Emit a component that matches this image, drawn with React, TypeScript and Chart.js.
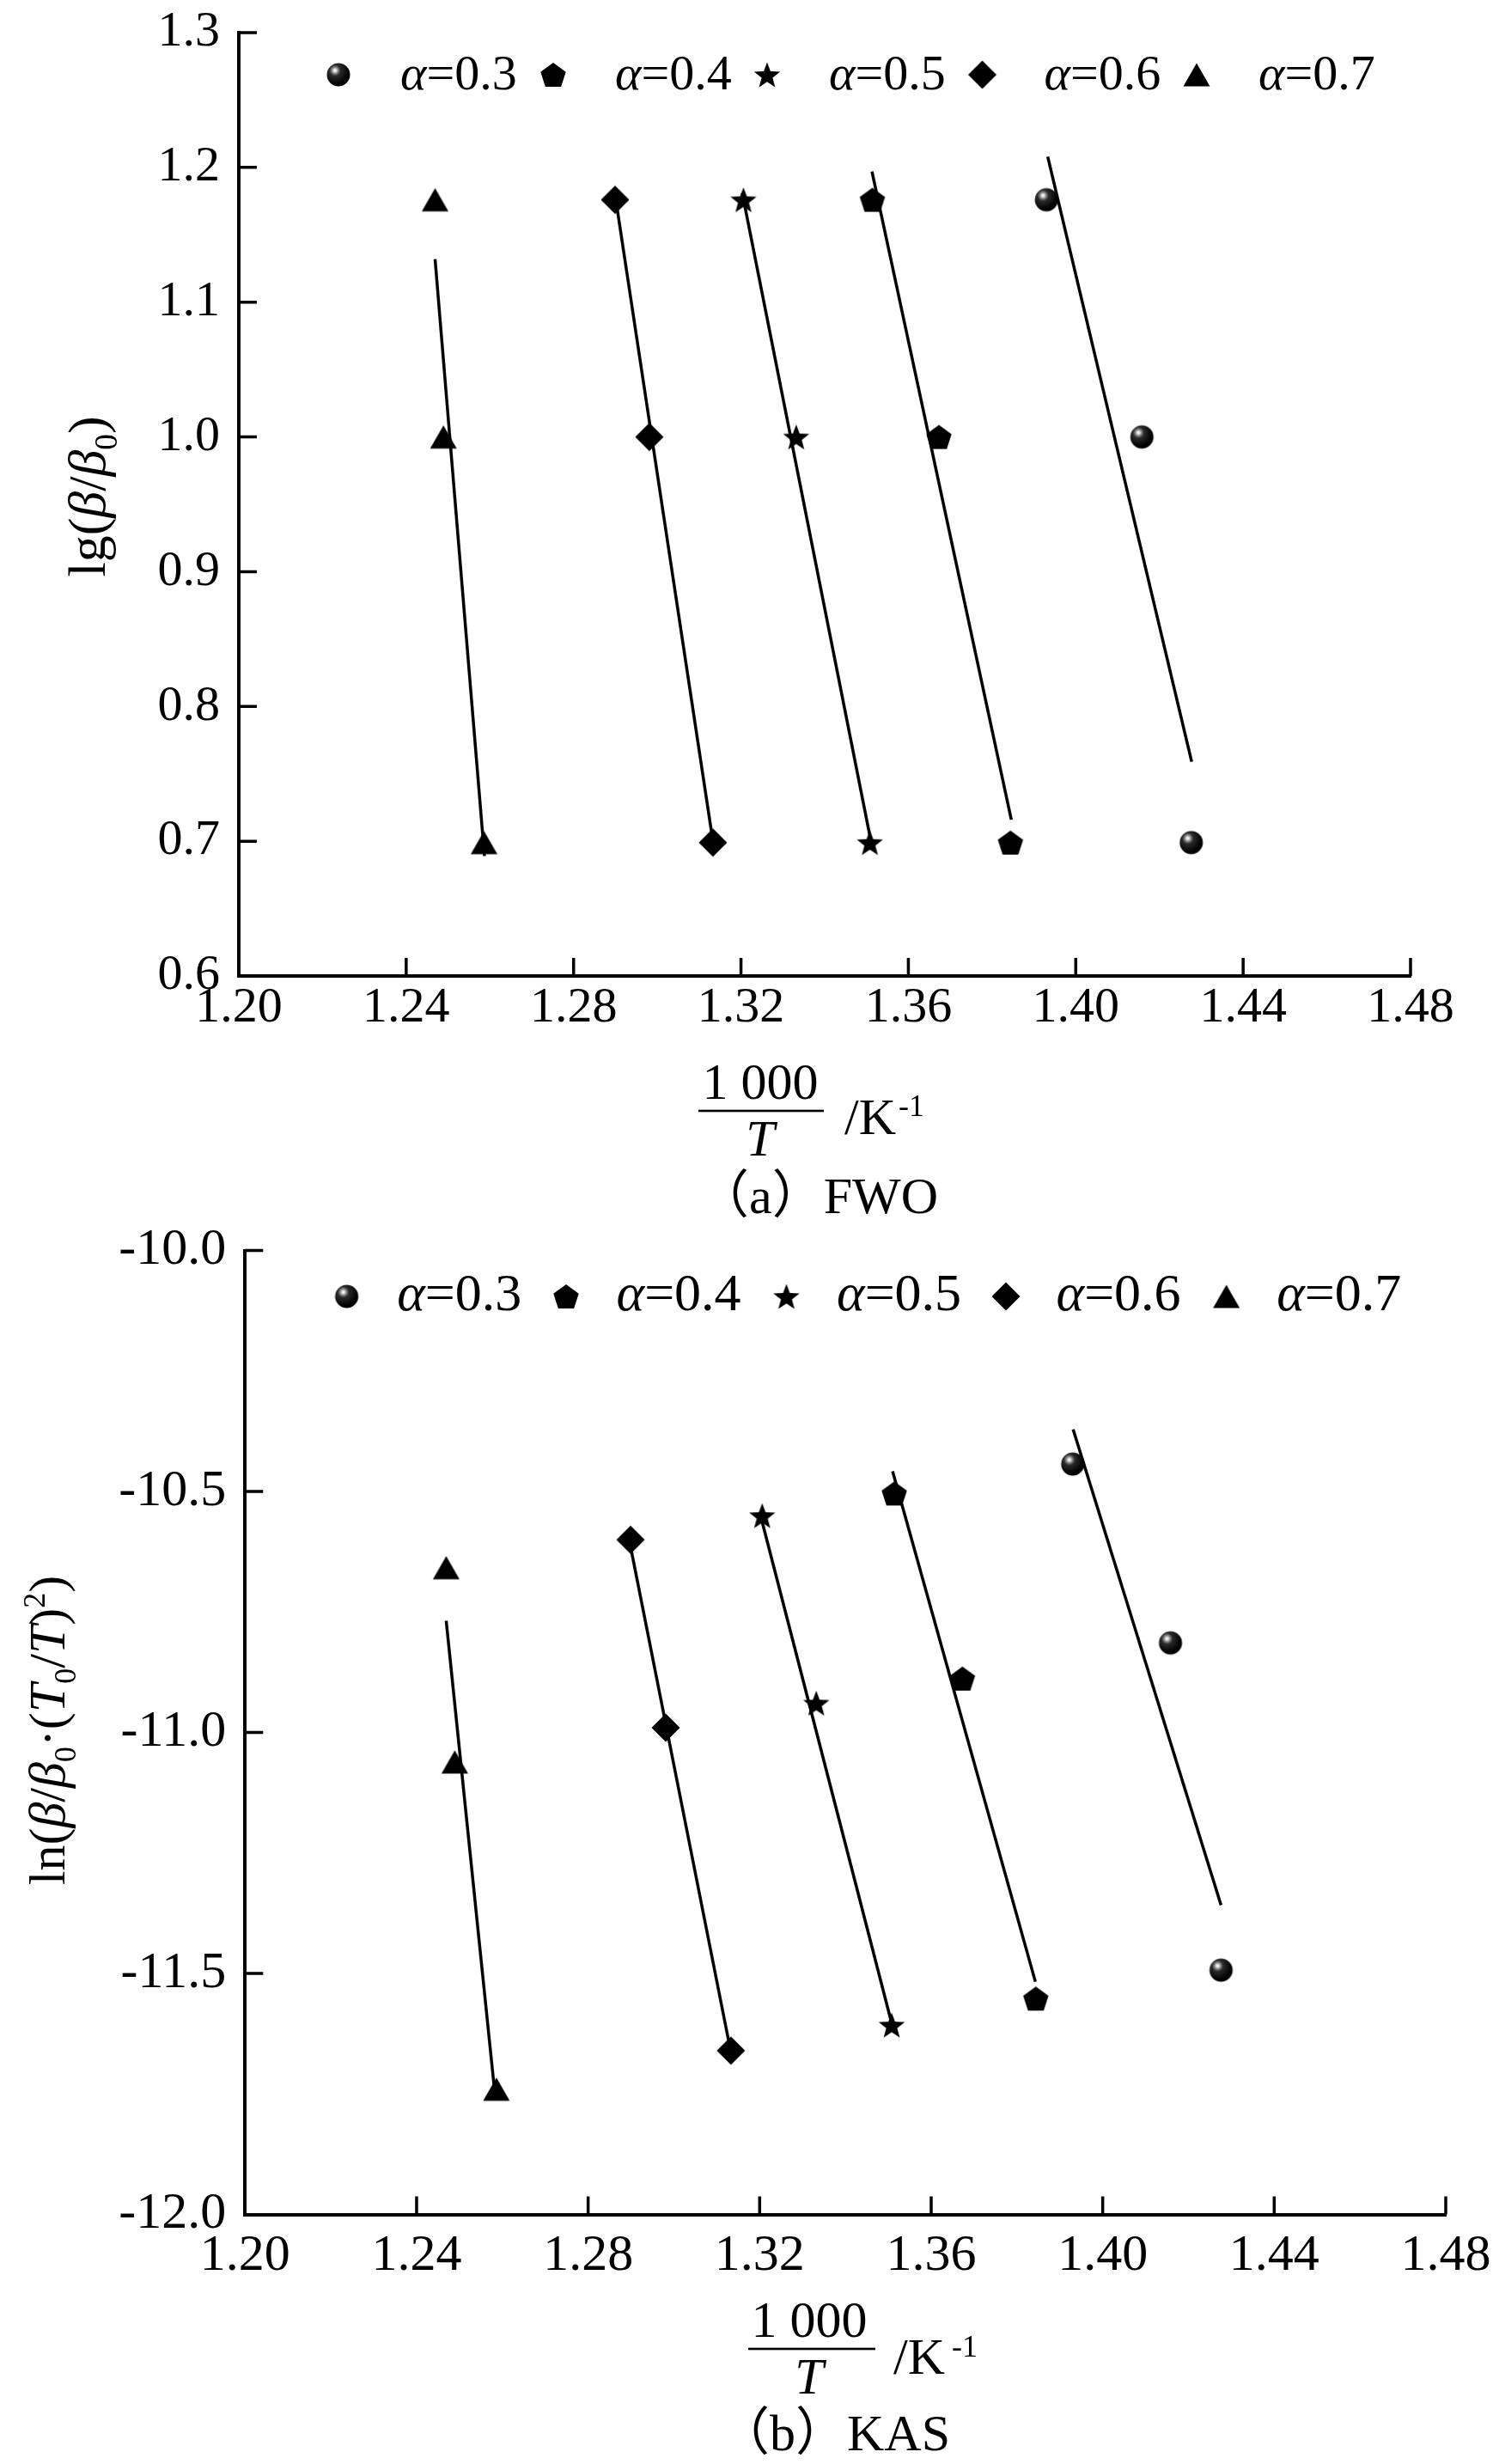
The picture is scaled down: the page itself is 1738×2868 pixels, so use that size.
import { useEffect, useRef } from "react";
import { Chart, registerables } from "chart.js";

Chart.register(...registerables);

// ---- data ----
const ALPHAS = ["0.3", "0.4", "0.5", "0.6", "0.7"];
const MARKERS = ["sphere", "pentagon", "star", "diamond", "triangle"];

// 1000/T (K^-1) at β/β0 = 15, 10, 5
const INV_T_A03 = [1.393, 1.4158, 1.4276];
const INV_T_A04 = [1.3514, 1.3673, 1.3844];
const INV_T_A05 = [1.3206, 1.3332, 1.3508];
const INV_T_A06 = [1.2899, 1.2981, 1.3133];
const INV_T_A07 = [1.2469, 1.2489, 1.2586];

// FWO: lg(β/β0)
const FWO_LG = [1.176, 1.0, 0.699];

// KAS: ln(β/β0·(T0/T)^2)
const KAS_A03 = [-10.443, -10.814, -11.493];
const KAS_A04 = [-10.504, -10.888, -11.552];
const KAS_A05 = [-10.55, -10.939, -11.607];
const KAS_A06 = [-10.6, -10.99, -11.66];
const KAS_A07 = [-10.658, -11.061, -11.74];

// fitted lines, [x, y] at both ends
const FWO_FIT_A03 = [[1.3933, 1.208], [1.4277, 0.759]];
const FWO_FIT_A04 = [[1.3513, 1.197], [1.3846, 0.716]];
const FWO_FIT_A05 = [[1.3203, 1.181], [1.3508, 0.704]];
const FWO_FIT_A06 = [[1.2899, 1.18], [1.313, 0.706]];
const FWO_FIT_A07 = [[1.2469, 1.132], [1.2587, 0.689]];

const KAS_FIT_A03 = [[1.3931, -10.371], [1.4276, -11.358]];
const KAS_FIT_A04 = [[1.351, -10.458], [1.3843, -11.517]];
const KAS_FIT_A05 = [[1.3205, -10.56], [1.3507, -11.6]];
const KAS_FIT_A06 = [[1.2898, -10.61], [1.313, -11.65]];
const KAS_FIT_A07 = [[1.2469, -10.768], [1.2584, -11.762]];

const X_TICKS = [1.2, 1.24, 1.28, 1.32, 1.36, 1.4, 1.44, 1.48];
const FWO_TICKS = [0.6, 0.7, 0.8, 0.9, 1.0, 1.1, 1.2, 1.3];
const KAS_TICKS = [-12, -11.5, -11, -10.5, -10];

const INV_T = [INV_T_A03, INV_T_A04, INV_T_A05, INV_T_A06, INV_T_A07];
const KAS = [KAS_A03, KAS_A04, KAS_A05, KAS_A06, KAS_A07];
const FWO_FIT = [FWO_FIT_A03, FWO_FIT_A04, FWO_FIT_A05, FWO_FIT_A06, FWO_FIT_A07];
const KAS_FIT = [KAS_FIT_A03, KAS_FIT_A04, KAS_FIT_A05, KAS_FIT_A06, KAS_FIT_A07];

// ---- drawing helpers ----
const SERIF = "'Liberation Serif', 'Noto Sans CJK SC', serif";
const W = 1738;

type Run = { t: string; i?: boolean; sub?: boolean; sup?: boolean };

function runFont(r: Run, size: number) {
  const s = r.sub || r.sup ? size * 0.6 : size;
  return `${r.i ? "italic " : ""}${s}px ${SERIF}`;
}

function runsWidth(ctx: CanvasRenderingContext2D, runs: Run[], size: number) {
  let w = 0;
  for (const r of runs) {
    ctx.font = runFont(r, size);
    w += ctx.measureText(r.t).width;
  }
  return w;
}

function drawRuns(
  ctx: CanvasRenderingContext2D,
  runs: Run[],
  x: number,
  y: number,
  size: number,
  align: "left" | "center"
) {
  let cx = align === "center" ? x - runsWidth(ctx, runs, size) / 2 : x;
  ctx.textAlign = "left";
  ctx.textBaseline = "alphabetic";
  ctx.fillStyle = "#000";
  for (const r of runs) {
    ctx.font = runFont(r, size);
    const dy = r.sub ? size * 0.22 : r.sup ? -size * 0.38 : 0;
    ctx.fillText(r.t, cx, y + dy);
    cx += ctx.measureText(r.t).width;
  }
}

function makeMarker(kind: string) {
  const c = document.createElement("canvas");
  c.width = 40;
  c.height = 40;
  const ctx = c.getContext("2d")!;
  const cx = 20;
  const cy = 20;
  ctx.fillStyle = "#000";
  ctx.beginPath();
  if (kind === "sphere") {
    const r = 13.5;
    const g = ctx.createRadialGradient(cx - 4, cy - 5, 0, cx - 4, cy - 5, r * 1.2);
    g.addColorStop(0, "#ffffff");
    g.addColorStop(0.1, "#e0e0e0");
    g.addColorStop(0.22, "#8a8a8a");
    g.addColorStop(0.4, "#2a2a2a");
    g.addColorStop(1, "#000000");
    ctx.fillStyle = g;
    ctx.arc(cx, cy, r, 0, Math.PI * 2);
  } else if (kind === "pentagon") {
    const r = 15.5;
    const oy = cy + (r - r * Math.cos(Math.PI / 5)) / 2;
    for (let k = 0; k < 5; k++) {
      const a = -Math.PI / 2 + (k * 2 * Math.PI) / 5;
      ctx.lineTo(cx + r * Math.cos(a), oy + r * Math.sin(a));
    }
  } else if (kind === "star") {
    const R = 16;
    const ri = R * 0.42;
    const oy = cy + (R - R * Math.cos(Math.PI / 5)) / 2;
    for (let k = 0; k < 10; k++) {
      const a = -Math.PI / 2 + (k * Math.PI) / 5;
      const rr = k % 2 === 0 ? R : ri;
      ctx.lineTo(cx + rr * Math.cos(a), oy + rr * Math.sin(a));
    }
  } else if (kind === "diamond") {
    const h = 16.5;
    ctx.moveTo(cx, cy - h);
    ctx.lineTo(cx + h, cy);
    ctx.lineTo(cx, cy + h);
    ctx.lineTo(cx - h, cy);
  } else {
    ctx.moveTo(cx, cy - 13.5);
    ctx.lineTo(cx + 15.5, cy + 13.5);
    ctx.lineTo(cx - 15.5, cy + 13.5);
  }
  ctx.closePath();
  ctx.fill();
  return c;
}

// ---- panel layout ----
interface Panel {
  height: number;
  area: { left: number; right: number; top: number; bottom: number };
  yTicks: number[];
  yDecimals: number;
  ys: number[][];
  fits: number[][][];
  font: number;
  xPad: number;
  legendX: number[];
  legendY: number;
  legendBase: number;
  legendDx: number;
  legendFont: number;
  yTitle: Run[];
  yTitleX: number;
  yTitleY: number;
  yTitleSize: number;
  frac: { cx: number; numBase: number; barY: number; barL: number; barR: number; tBase: number; kX: number; kBase: number; supX: number; supBase: number };
  caption: string;
  capX: number;
  capBase: number;
}

const FWO_PANEL: Panel = {
  height: 1430,
  area: { left: 278, right: 1642, top: 38, bottom: 1136 },
  yTicks: FWO_TICKS,
  yDecimals: 1,
  ys: [FWO_LG, FWO_LG, FWO_LG, FWO_LG, FWO_LG],
  fits: FWO_FIT,
  font: 58,
  xPad: 9,
  legendX: [394, 644, 893, 1143.5, 1393],
  legendY: 87,
  legendBase: 104,
  legendDx: 72,
  legendFont: 58,
  yTitle: [{ t: "lg(" }, { t: "β", i: true }, { t: "/" }, { t: "β", i: true }, { t: "0", sub: true }, { t: ")" }],
  yTitleX: 122,
  yTitleY: 578,
  yTitleSize: 62,
  frac: { cx: 885, numBase: 1279, barY: 1293, barL: 813, barR: 959, tBase: 1345, kX: 983, kBase: 1320, supX: 1046, supBase: 1299 },
  caption: "（a）FWO",
  capX: 812,
  capBase: 1412,
};

const KAS_PANEL: Panel = {
  height: 1438,
  area: { left: 285.3, right: 1683, top: 25.6, bottom: 1147.6 },
  yTicks: KAS_TICKS,
  yDecimals: 1,
  ys: KAS,
  fits: KAS_FIT,
  font: 60,
  xPad: 19,
  legendX: [403.6, 659, 915.5, 1171, 1427.6],
  legendY: 79,
  legendBase: 95,
  legendDx: 58.6,
  legendFont: 62,
  yTitle: [
    { t: "ln(" }, { t: "β", i: true }, { t: "/" }, { t: "β", i: true }, { t: "0", sub: true },
    { t: "·(" }, { t: "T", i: true }, { t: "0", sub: true }, { t: "/" }, { t: "T", i: true },
    { t: ")" }, { t: "2", sup: true }, { t: ")" },
  ],
  yTitleX: 75,
  yTitleY: 584,
  yTitleSize: 60,
  frac: { cx: 942, numBase: 1290, barY: 1304, barL: 871, barR: 1019, tBase: 1356, kX: 1040, kBase: 1333, supX: 1108, supBase: 1313 },
  caption: "（b）KAS",
  capX: 836,
  capBase: 1422,
};

function PanelChart({ panel }: { panel: Panel }) {
  const ref = useRef<HTMLCanvasElement | null>(null);

  useEffect(() => {
    if (!ref.current) return;
    const images = MARKERS.map(makeMarker);
    const { area, height } = panel;

    const pointSets = ALPHAS.map((a, k) => ({
      label: `α=${a}`,
      data: INV_T[k].map((x, j) => ({ x, y: panel.ys[k][j] })),
      pointStyle: images[k] as any,
      showLine: false,
      pointRadius: 14,
    }));
    const fitSets = ALPHAS.map((a, k) => ({
      label: `fit α=${a}`,
      data: panel.fits[k].map(([x, y]) => ({ x, y })),
      showLine: true,
      pointRadius: 0,
      borderColor: "#000",
      borderWidth: 3.5,
    }));

    const tickFont = { family: SERIF, size: panel.font, lineHeight: 1 };

    const decor = {
      id: "decor",
      afterDraw(chart: Chart) {
        const ctx = chart.ctx;
        const xs = chart.scales.x;
        const ys = chart.scales.y;
        const ca = chart.chartArea;
        ctx.save();
        // inward ticks
        ctx.strokeStyle = "#000";
        ctx.lineWidth = 3.5;
        ctx.beginPath();
        for (const v of X_TICKS.slice(1)) {
          const px = xs.getPixelForValue(v);
          ctx.moveTo(px, ca.bottom);
          ctx.lineTo(px, ca.bottom - 21);
        }
        for (const v of panel.yTicks.slice(1)) {
          const py = ys.getPixelForValue(v);
          ctx.moveTo(ca.left, py);
          ctx.lineTo(ca.left + 21, py);
        }
        ctx.stroke();

        // legend
        ALPHAS.forEach((a, k) => {
          const img = images[k];
          const mx = panel.legendX[k];
          ctx.drawImage(img, mx - img.width / 2, panel.legendY - img.height / 2);
          drawRuns(ctx, [{ t: "α", i: true }, { t: `=${a}` }], mx + panel.legendDx, panel.legendBase, panel.legendFont, "left");
        });

        // y title
        ctx.save();
        ctx.translate(panel.yTitleX, panel.yTitleY);
        ctx.rotate(-Math.PI / 2);
        drawRuns(ctx, panel.yTitle, 0, 0, panel.yTitleSize, "center");
        ctx.restore();

        // x title: 1 000 / T  /K^-1
        const f = panel.frac;
        drawRuns(ctx, [{ t: "1 000" }], f.cx, f.numBase, 60, "center");
        ctx.fillRect(f.barL, f.barY - 1.3, f.barR - f.barL, 2.6);
        drawRuns(ctx, [{ t: "T", i: true }], f.cx, f.tBase, 60, "center");
        drawRuns(ctx, [{ t: "/K" }], f.kX, f.kBase, 60, "left");
        drawRuns(ctx, [{ t: "-1" }], f.supX, f.supBase, 36, "left");

        // caption
        drawRuns(ctx, [{ t: panel.caption }], panel.capX, panel.capBase, 60, "left");
        ctx.restore();
      },
    };

    const chart = new Chart(ref.current, {
      type: "scatter",
      data: { datasets: [...pointSets, ...fitSets] as any },
      options: {
        responsive: false,
        animation: false,
        events: [],
        layout: { padding: { left: 0, top: area.top, right: W - area.right, bottom: 0 } },
        plugins: { legend: { display: false }, tooltip: { enabled: false } },
        scales: {
          x: {
            type: "linear",
            min: X_TICKS[0],
            max: X_TICKS[X_TICKS.length - 1],
            afterBuildTicks: (s: any) => {
              s.ticks = X_TICKS.map((value) => ({ value }));
            },
            afterFit: (s: any) => {
              s.height = height - area.bottom;
              s.paddingLeft = 0;
              s.paddingRight = 0;
            },
            ticks: {
              callback: (v: any) => Number(v).toFixed(2),
              font: tickFont,
              color: "#000",
              padding: panel.xPad,
              maxRotation: 0,
              autoSkip: false,
            },
            grid: { drawOnChartArea: false, drawTicks: false, color: "#000" },
            border: { color: "#000", width: 4 },
          },
          y: {
            type: "linear",
            min: panel.yTicks[0],
            max: panel.yTicks[panel.yTicks.length - 1],
            afterBuildTicks: (s: any) => {
              s.ticks = panel.yTicks.map((value) => ({ value }));
            },
            afterFit: (s: any) => {
              s.width = area.left;
              s.paddingTop = 0;
              s.paddingBottom = 0;
            },
            ticks: {
              callback: (v: any) => Number(v).toFixed(panel.yDecimals),
              font: tickFont,
              color: "#000",
              padding: 22,
              autoSkip: false,
            },
            grid: { drawOnChartArea: false, drawTicks: false, color: "#000" },
            border: { color: "#000", width: 4 },
          },
        },
      },
      plugins: [decor],
    });

    return () => {
      chart.destroy();
    };
  }, [panel]);

  return <canvas ref={ref} width={W} height={panel.height} style={{ display: "block" }} />;
}

export default function App() {
  useEffect(() => {
    document.body.style.margin = "0";
    document.body.style.background = "#fff";
  }, []);

  return (
    <div style={{ width: W, background: "#fff" }}>
      <PanelChart panel={FWO_PANEL} />
      <PanelChart panel={KAS_PANEL} />
    </div>
  );
}
